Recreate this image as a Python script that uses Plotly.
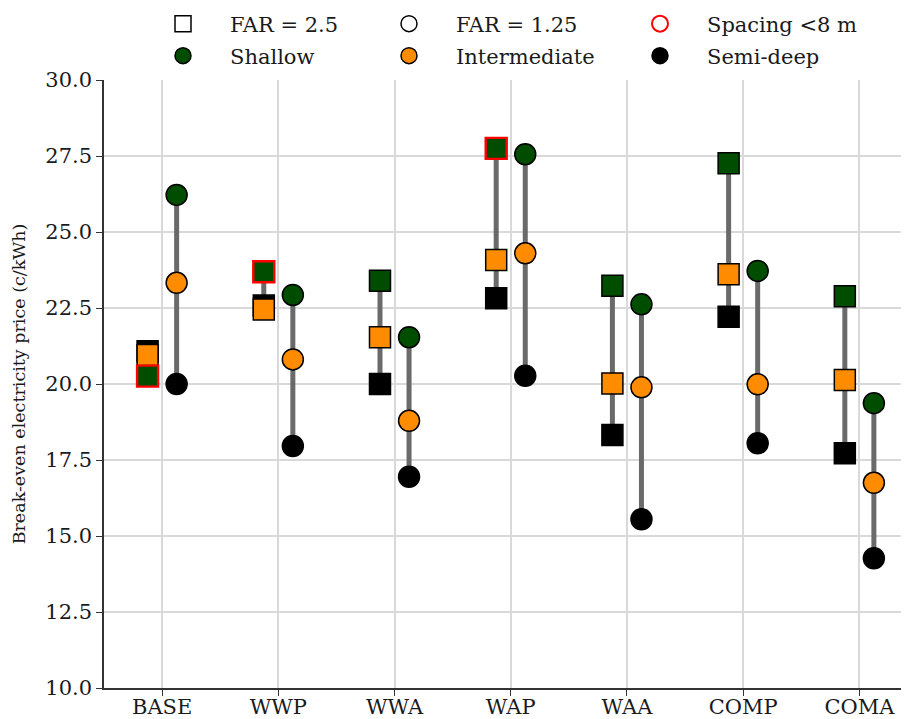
import plotly.graph_objects as go

categories = ["BASE", "WWP", "WWA", "WAP", "WAA", "COMP", "COMA"]

# FAR = 2.5 (squares)
far25_shallow = [20.26, 23.69, 23.40, 27.75, 23.23, 27.26, 22.89]
far25_intermediate = [20.95, 22.45, 21.54, 24.08, 20.02, 23.61, 20.13]
far25_semideep = [21.08, 22.58, 20.00, 22.82, 18.32, 22.21, 17.72]
far25_spacing = [True, True, False, True, False, False, False]

# FAR = 1.25 (circles)
far125_shallow = [26.22, 22.93, 21.54, 27.56, 22.62, 23.72, 19.37]
far125_intermediate = [23.33, 20.81, 18.79, 24.30, 19.89, 19.99, 16.75]
far125_semideep = [20.00, 17.96, 16.95, 20.27, 15.55, 18.05, 14.27]

yticks = [10.0, 12.5, 15.0, 17.5, 20.0, 22.5, 25.0, 27.5, 30.0]

GREEN = "#004d00"
ORANGE = "#ff8c00"
BLACK = "#000000"
LINE = "#6a6a6a"
FONT = "DejaVu Serif"
TXT = "#1a1a1a"
OFF = 0.125
MS = 21

fig = go.Figure()

# connecting lines
lx, ly = [], []
for i in range(len(categories)):
    for off, grp in ((-OFF, (far25_shallow, far25_intermediate, far25_semideep)),
                     (OFF, (far125_shallow, far125_intermediate, far125_semideep))):
        vals = [g[i] for g in grp]
        lx += [i + off, i + off, None]
        ly += [min(vals), max(vals), None]
fig.add_trace(go.Scatter(x=lx, y=ly, mode="lines", line=dict(color=LINE, width=5),
                         showlegend=False, hoverinfo="skip"))

xs_sq = [i - OFF for i in range(len(categories))]
xs_ci = [i + OFF for i in range(len(categories))]

def add_pts(xs, ys, color, symbol, edgecolors=None, edgewidths=None):
    fig.add_trace(go.Scatter(
        x=xs, y=ys, mode="markers", showlegend=False,
        marker=dict(symbol=symbol, size=MS, color=color,
                    line=dict(color=edgecolors or BLACK, width=edgewidths or 1.5))))

add_pts(xs_sq, far25_semideep, BLACK, "square")
add_pts(xs_sq, far25_intermediate, ORANGE, "square")
add_pts(xs_sq, far25_shallow, GREEN, "square",
        edgecolors=["#ff0000" if s else BLACK for s in far25_spacing],
        edgewidths=[2.4 if s else 1.5 for s in far25_spacing])
add_pts(xs_ci, far125_semideep, BLACK, "circle")
add_pts(xs_ci, far125_intermediate, ORANGE, "circle")
add_pts(xs_ci, far125_shallow, GREEN, "circle")

# page offset (browser body margin)
OX, OY = 8, 8
W, H = 909 - OX, 719 - OY
L, R, T, B = 104 - OX, 2, 80 - OY, 31
pw, ph = W - L - R, H - T - B

# legend entries (one legend each for exact placement)
legend_items = [
    ("FAR = 2.5", "square", "white", BLACK, 183, 24),
    ("FAR = 1.25", "circle", "white", BLACK, 409, 24),
    ("Spacing <8 m", "circle", "white", "#ff0000", 660, 24),
    ("Shallow", "circle", GREEN, BLACK, 183, 56),
    ("Intermediate", "circle", ORANGE, BLACK, 409, 56),
    ("Semi-deep", "circle", BLACK, BLACK, 660, 56),
]
layout_legends = {}
for k, (name, sym, fc, ec, px, py) in enumerate(legend_items):
    key = "legend" if k == 0 else f"legend{k+1}"
    fig.add_trace(go.Scatter(x=[None], y=[None], mode="markers", name=name,
                             legend=key, showlegend=True,
                             marker=dict(symbol=sym, size=18, color=fc,
                                         line=dict(color=ec, width=2 if ec != BLACK else 1.5))))
    fx, fy = px - OX, py - OY
    layout_legends[key] = dict(
        x=(fx - 47 - L) / pw, y=(H - B - fy) / ph, xanchor="left", yanchor="middle",
        orientation="h", bgcolor="rgba(0,0,0,0)", borderwidth=0, itemwidth=84,
        font=dict(family=FONT, size=21, color=TXT))

fig.update_layout(
    width=W, height=H,
    margin=dict(l=L, r=R, t=T, b=B, autoexpand=False),
    plot_bgcolor="white", paper_bgcolor="white",
    font=dict(family=FONT, color=TXT),
    **layout_legends,
)
fig.update_xaxes(
    range=[-0.5, 6.41], tickmode="array", tickvals=list(range(len(categories))),
    ticktext=categories, showgrid=True, gridcolor="#d9d9d9", gridwidth=1.5,
    showline=True, linecolor="#333333", linewidth=1.5, ticks="outside",
    ticklen=6, tickwidth=1.3, tickcolor="#333333", zeroline=False, automargin=False,
    ticklabelstandoff=-7,
    tickfont=dict(family=FONT, size=21, color=TXT))
fig.update_yaxes(
    range=[10, 30], tickmode="array", tickvals=yticks,
    ticktext=[f"{v:.1f}" for v in yticks], showgrid=True, gridcolor="#d9d9d9",
    gridwidth=1.5, showline=True, linecolor="#333333", linewidth=1.5,
    ticks="outside", ticklen=6, tickwidth=1.3, tickcolor="#333333", zeroline=False,
    automargin=False,
    tickfont=dict(family=FONT, size=21, color=TXT),
    title=dict(text="Break-even electricity price (c/kWh)", standoff=15,
               font=dict(family=FONT, size=17.5, color=TXT)))

fig.write_html("out.html")
